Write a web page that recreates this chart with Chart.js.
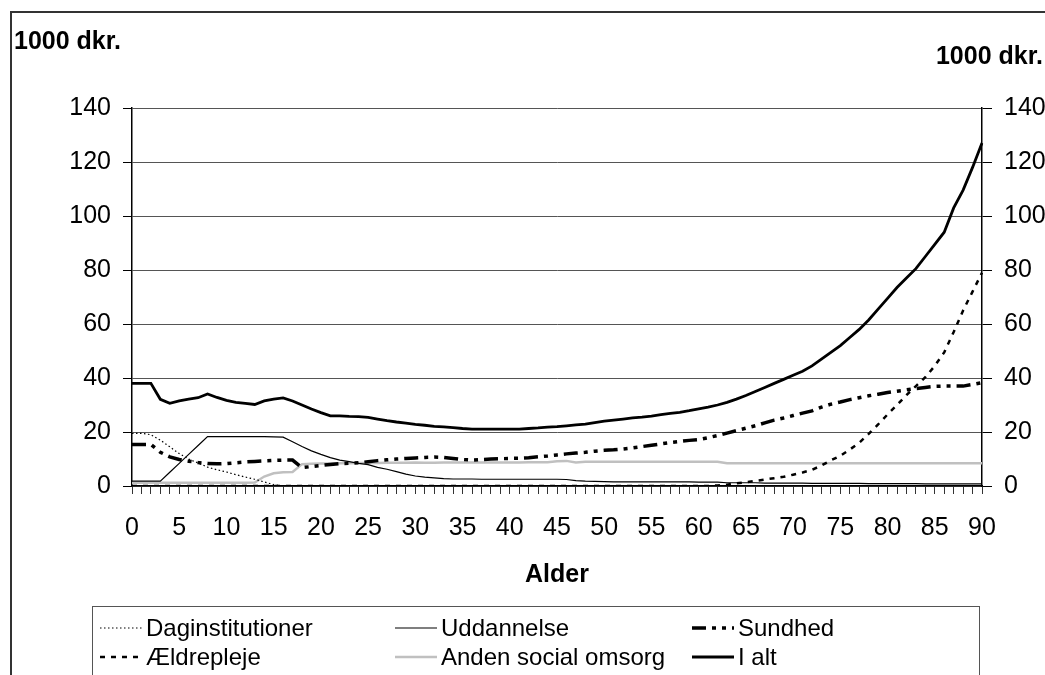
<!DOCTYPE html>
<html>
<head>
<meta charset="utf-8">
<script src="https://cdn.jsdelivr.net/npm/chart.js@4.4.1/dist/chart.umd.min.js"></script>
<style>
  html, body { margin: 0; padding: 0; background: #fff; }
  canvas { display: block; }
</style>
</head>
<body>
<canvas id="chart" width="1045" height="675"></canvas>
<script>
// ages 0..90 on the category axis
var ages = [0,1,2,3,4,5,6,7,8,9,10,11,12,13,14,15,16,17,18,19,20,21,22,23,24,25,26,27,28,29,
  30,31,32,33,34,35,36,37,38,39,40,41,42,43,44,45,46,47,48,49,50,51,52,53,54,55,56,57,58,59,
  60,61,62,63,64,65,66,67,68,69,70,71,72,73,74,75,76,77,78,79,80,81,82,83,84,85,86,87,88,89,90];

var yTicks = [0, 20, 40, 60, 80, 100, 120, 140];
var unitLabel = "1000 dkr.";
var xTitle = "Alder";

// values in 1000 dkr. per person
var daginstitutioner = [19.5,19.5,19.0,17.0,14.5,12.0,10.0,8.5,7.0,6.0,5.2,4.2,3.3,2.5,1.5,0.5,
  0,0,0,0,0,0,0,0,0,0,0,0,0,0,0,0,0,0,0,0,0,0,0,0,0,0,0,0,0,0,0,0,0,0,0,0,0,0,0,0,0,0,0,0,
  0,0,0,0,0,0,0,0,0,0,0,0,0,0,0,0,0,0,0,0,0,0,0,0,0,0,0,0,0,0,0];

var uddannelse = [1.8,1.8,1.8,1.8,5.1,8.4,11.7,15.0,18.3,18.3,18.3,18.3,18.3,18.3,18.3,18.2,18.1,
  16.4,14.6,13.0,11.7,10.5,9.6,9.0,8.4,7.9,6.9,6.2,5.3,4.4,3.7,3.3,3.0,2.7,2.6,2.6,2.6,2.5,2.5,
  2.5,2.5,2.5,2.5,2.5,2.5,2.5,2.4,2.0,1.8,1.7,1.6,1.5,1.5,1.5,1.5,1.5,1.5,1.5,1.5,1.5,1.4,1.4,
  1.4,1.2,1.2,1.2,1.2,1.1,1.1,1.1,1.1,1.1,1.0,1.0,1.0,1.0,1.0,1.0,0.9,0.9,0.9,0.9,0.9,0.9,0.8,
  0.8,0.8,0.8,0.8,0.8,0.8];

var sundhed = [15.4,15.4,15.4,12.5,10.8,9.8,9.2,8.7,8.3,8.2,8.3,8.6,8.9,9.1,9.3,9.5,9.6,9.6,
  6.8,7.2,7.6,8.0,8.3,8.4,8.6,9.0,9.4,9.7,10.0,10.2,10.4,10.6,10.7,10.6,10.2,9.8,9.6,9.8,10.0,
  10.1,10.2,10.3,10.5,10.8,11.1,11.5,11.9,12.2,12.5,12.9,13.2,13.4,13.7,14.1,14.6,15.1,15.6,
  16.1,16.5,16.9,17.2,17.9,18.7,19.6,20.5,21.4,22.3,23.4,24.4,25.2,26.1,27.0,27.8,29.2,30.3,
  31.1,32.0,32.7,33.4,34.0,34.6,35.1,35.6,36.1,36.5,36.9,37.0,37.0,37.0,37.6,38.3];

var aeldrepleje = [0,0,0,0,0,0,0,0,0,0,0,0,0,0,0,0,0,0,0,0,0,0,0,0,0,0,0,0,0,0,0,0,0,0,0,0,
  0,0,0,0,0,0,0,0,0,0,0,0,0,0,0,0,0,0,0,0,0,0,0,0,0,0,
  0.2,0.5,1.0,1.4,1.9,2.4,2.9,3.4,4.2,5.0,6.0,7.6,9.5,11.2,13.5,16.0,19.3,22.8,26.5,30.0,
  33.7,37.0,40.3,44.5,49.5,57.0,65.0,72.0,79.0];

var andenOmsorg = [1.2,1.2,1.2,1.2,1.2,1.2,1.2,1.2,1.2,1.2,1.2,1.2,1.2,1.3,3.5,4.7,5.1,5.2,
  8.1,8.2,8.3,8.3,8.4,8.4,8.5,8.5,8.5,8.6,8.6,8.6,8.7,8.6,8.6,8.7,8.7,8.7,8.7,8.7,8.7,8.7,8.7,
  8.7,8.8,8.8,8.8,9.2,9.3,8.7,9.0,9.0,9.0,9.0,9.0,9.0,9.0,9.0,9.0,9.0,9.0,9.0,9.0,9.0,9.0,
  8.4,8.4,8.4,8.4,8.4,8.4,8.4,8.4,8.4,8.4,8.4,8.4,8.4,8.4,8.4,8.4,8.4,8.4,8.4,8.4,8.4,8.4,
  8.4,8.4,8.4,8.4,8.4,8.4];

var iAlt = [38.0,38.0,38.0,32.1,30.6,31.5,32.2,32.7,34.1,32.8,31.7,31.0,30.6,30.2,31.5,32.2,
  32.6,31.5,30.0,28.5,27.2,26.0,26.0,25.8,25.7,25.4,24.8,24.2,23.7,23.3,22.8,22.5,22.1,21.9,
  21.6,21.3,21.1,21.1,21.1,21.1,21.1,21.1,21.3,21.5,21.8,22.0,22.3,22.6,22.9,23.5,24.0,24.4,
  24.8,25.2,25.5,25.9,26.4,26.9,27.3,27.9,28.6,29.2,30.0,31.0,32.2,33.5,35.0,36.5,38.0,39.5,
  41.0,42.5,44.5,47.0,49.5,52.0,55.0,58.0,61.5,65.5,69.5,73.5,77.0,80.5,85.0,89.5,94.0,103.0,
  109.6,118.0,127.0];

Chart.defaults.font.family = '"Liberation Sans", Arial, sans-serif';
Chart.defaults.color = '#000';

// frame, unit labels, axis title and the boxed legend
var extras = {
    id: 'extras',
    afterDraw: function (chart) {
        var c = chart.ctx;
        c.save();
        c.strokeStyle = '#333';
        c.lineWidth = 2;
        c.beginPath();
        c.moveTo(11, 675);
        c.lineTo(11, 12);
        c.lineTo(1045, 12);
        c.stroke();

        c.fillStyle = '#000';
        c.font = 'bold 25px "Liberation Sans", Arial';
        c.textBaseline = 'middle';
        c.textAlign = 'left';
        c.fillText(unitLabel, 14, 42);
        c.textAlign = 'right';
        c.fillText(unitLabel, 1043, 57);
        c.textAlign = 'center';
        c.fillText(xTitle, 557, 575);

        // legend box
        c.lineWidth = 1;
        c.strokeStyle = '#555';
        c.strokeRect(92.5, 606.5, 887, 120);
        c.font = '24px "Liberation Sans", Arial';
        c.textAlign = 'left';
        var cols = [100, 395, 692];
        chart.data.datasets.forEach(function (ds, i) {
            var x0 = cols[i % 3];
            var y = 628 + Math.floor(i / 3) * 29;
            c.save();
            c.strokeStyle = ds.borderColor;
            c.lineWidth = ds.borderWidth;
            c.setLineDash(ds.borderDash || []);
            c.beginPath();
            c.moveTo(x0, y);
            c.lineTo(x0 + 42, y);
            c.stroke();
            c.restore();
            c.fillText(ds.label, x0 + 46, y + 1);
        });
        c.restore();
    }
};

function line(label, data, color, width, dash) {
    return {
        label: label, data: data, borderColor: color, backgroundColor: color,
        borderWidth: width, borderDash: dash, pointRadius: 0, tension: 0, fill: false
    };
}

var yTickOpts = {
    stepSize: 20, padding: 12, font: { size: 25 },
    callback: function (v) { return yTicks.indexOf(v) >= 0 ? String(v) : ''; }
};

var chart = new Chart(document.getElementById('chart').getContext('2d'), {
    type: 'line',
    data: {
        labels: ages,
        datasets: [
            line('Daginstitutioner', daginstitutioner, '#000', 1.2, [1.5, 2.5]),
            line('Uddannelse', uddannelse, '#000', 1.2, []),
            line('Sundhed', sundhed, '#000', 3.5, [14, 6, 4, 6, 4, 6]),
            line('Ældrepleje', aeldrepleje, '#000', 2.5, [5, 6]),
            line('Anden social omsorg', andenOmsorg, '#c0c0c0', 2.5, []),
            line('I alt', iAlt, '#000', 2.8, [])
        ]
    },
    options: {
        responsive: false,
        animation: false,
        devicePixelRatio: 1,
        layout: { padding: { top: 108, left: 0, right: 0, bottom: 0 } },
        plugins: { legend: { display: false }, tooltip: { enabled: false } },
        scales: {
            x: {
                offset: false,
                grid: { drawOnChartArea: false, drawTicks: true, tickLength: 8, tickColor: '#333' },
                border: { color: '#000', width: 1.5 },
                ticks: {
                    autoSkip: false, maxRotation: 0, minRotation: 0, padding: 19, font: { size: 25 },
                    callback: function (v, i) { return ages[i] % 5 === 0 ? String(ages[i]) : ''; }
                },
                afterFit: function (s) { s.height = 189; }
            },
            y: {
                position: 'left', min: 0, max: 140,
                grid: { color: '#555', tickColor: '#000', tickLength: 9 },
                border: { color: '#000', width: 1.5 },
                ticks: yTickOpts,
                afterFit: function (s) { s.width = 132; }
            },
            y2: {
                position: 'right', min: 0, max: 140,
                grid: { drawOnChartArea: false, tickColor: '#000', tickLength: 10 },
                border: { color: '#000', width: 1.5 },
                ticks: yTickOpts,
                afterFit: function (s) { s.width = 63; }
            }
        }
    },
    plugins: [extras]
});
</script>
</body>
</html>
